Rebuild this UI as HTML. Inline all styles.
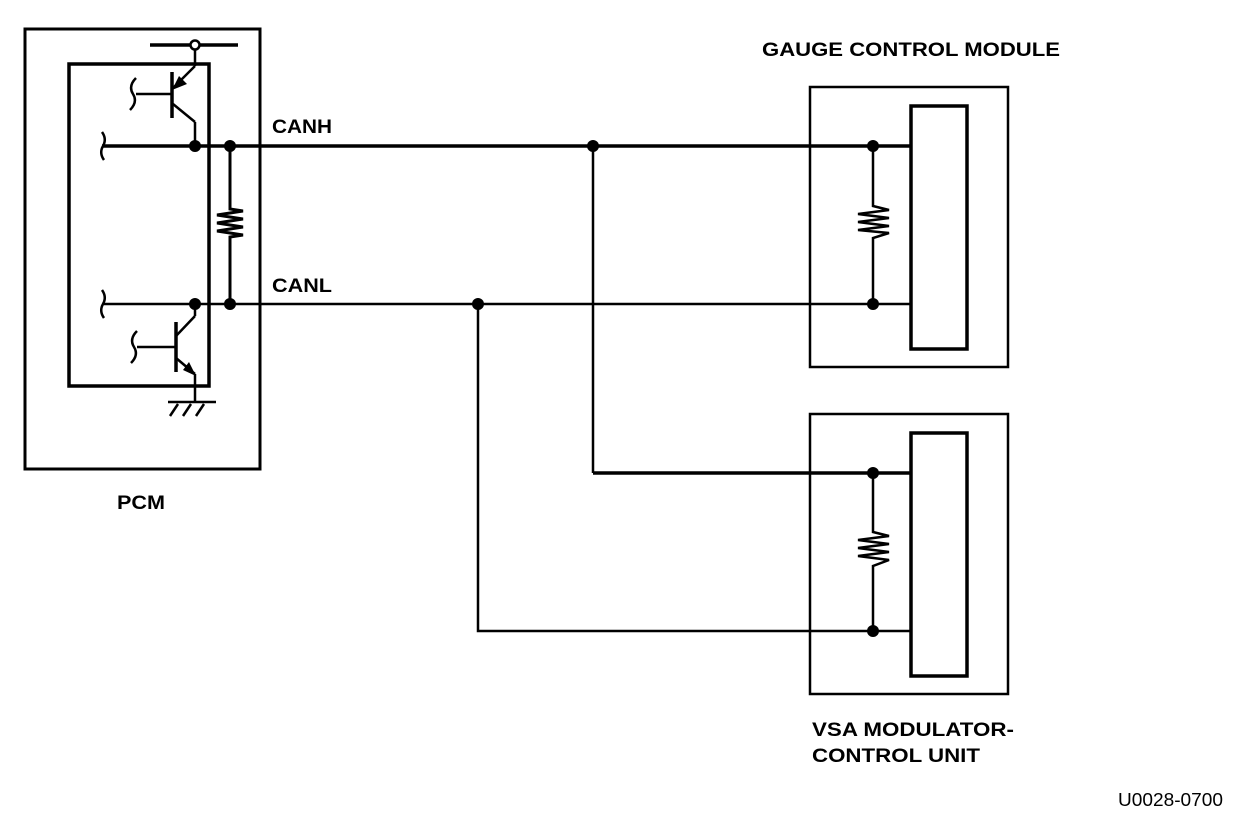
<!DOCTYPE html>
<html><head><style>html,body{margin:0;padding:0;background:#fff}svg{display:block}</style></head>
<body>
<svg width="1248" height="818" viewBox="0 0 1248 818" xmlns="http://www.w3.org/2000/svg">
<g fill="none" stroke="#000" stroke-width="2.5">
<rect x="25" y="29" width="235" height="440" stroke-width="3"/>
<rect x="69" y="64" width="140" height="322" stroke-width="3.5"/>
<line x1="150" y1="45" x2="238" y2="45" stroke-width="3.5"/>
<circle cx="195" cy="45" r="4.5" fill="#fff" stroke-width="2.5"/>
<line x1="195" y1="50" x2="195" y2="66"/>
<line x1="195" y1="66" x2="173" y2="88"/>
<line x1="172" y1="72" x2="172" y2="118" stroke-width="3.5"/>
<line x1="136" y1="94" x2="172" y2="94"/>
<path d="M136 78 Q128 86 133 94 Q138 102 130 110"/>
<line x1="173" y1="104" x2="195" y2="122"/>
<line x1="195" y1="122" x2="195" y2="146"/>
<line x1="176" y1="322" x2="176" y2="372" stroke-width="3.5"/>
<line x1="137" y1="347" x2="176" y2="347"/>
<path d="M137 331 Q129 339 134 347 Q139 355 131 363"/>
<line x1="176" y1="336" x2="195" y2="316"/>
<line x1="195" y1="316" x2="195" y2="304"/>
<line x1="176" y1="358" x2="195" y2="374"/>
<line x1="195" y1="374" x2="195" y2="402"/>
<line x1="168" y1="402" x2="216" y2="402"/>
<line x1="178" y1="404" x2="170" y2="416"/>
<line x1="191" y1="404" x2="183" y2="416"/>
<line x1="204" y1="404" x2="196" y2="416"/>
<line x1="102" y1="146" x2="911" y2="146" stroke-width="3.5"/>
<line x1="102" y1="304" x2="911" y2="304" stroke-width="2.5"/>
<path d="M102 132 Q107 139 103 146 Q99 153 104 160"/>
<path d="M102 290 Q107 297 103 304 Q99 311 104 318"/>
<path d="M230 146 V209 L243 211 L217 215 L243 219 L217 223 L243 227 L217 231 L243 235 L230 237 V304" stroke-width="3"/>
<line x1="593" y1="146" x2="593" y2="473" stroke-width="2.5"/>
<line x1="593" y1="473" x2="911" y2="473" stroke-width="3.5"/>
<polyline points="478,304 478,631 911,631" stroke-width="2.5"/>
<rect x="810" y="87" width="198" height="280" stroke-width="2.5"/>
<rect x="911" y="106" width="56" height="243" stroke-width="3.5"/>
<path d="M873 146 V206 L889 210 L858 214 L889 218 L858 222 L889 226 L858 230 L889 233 L873 238 V304" stroke-width="2.5"/>
<rect x="810" y="414" width="198" height="280" stroke-width="2.5"/>
<rect x="911" y="433" width="56" height="243" stroke-width="3.5"/>
<path d="M873 473 V532 L889 536 L858 540 L889 544 L858 548 L889 552 L858 556 L889 560 L873 566 V631" stroke-width="2.5"/>
</g>
<g fill="#000">
<polygon points="172,90 179,76 187,84"/>
<polygon points="196,376 183,370 189,362"/>
<circle cx="195" cy="146" r="6"/><circle cx="230" cy="146" r="6"/>
<circle cx="195" cy="304" r="6"/><circle cx="230" cy="304" r="6"/>
<circle cx="593" cy="146" r="6"/><circle cx="478" cy="304" r="6"/>
<circle cx="873" cy="146" r="6"/><circle cx="873" cy="304" r="6"/>
<circle cx="873" cy="473" r="6"/><circle cx="873" cy="631" r="6"/>
</g>
<g font-family="Liberation Sans, sans-serif" font-weight="bold" font-size="19" fill="#000">
<text x="762" y="56" textLength="298" lengthAdjust="spacingAndGlyphs">GAUGE CONTROL MODULE</text>
<text x="272" y="133" textLength="60" lengthAdjust="spacingAndGlyphs">CANH</text>
<text x="272" y="292" textLength="60" lengthAdjust="spacingAndGlyphs">CANL</text>
<text x="117" y="509" textLength="48" lengthAdjust="spacingAndGlyphs">PCM</text>
<text x="812" y="736" textLength="202" lengthAdjust="spacingAndGlyphs">VSA MODULATOR-</text>
<text x="812" y="762" textLength="168" lengthAdjust="spacingAndGlyphs">CONTROL UNIT</text>
</g>
<text x="1118" y="806" font-family="Liberation Sans, sans-serif" font-size="18" textLength="105" lengthAdjust="spacingAndGlyphs">U0028-0700</text>
</svg>
</body></html>
